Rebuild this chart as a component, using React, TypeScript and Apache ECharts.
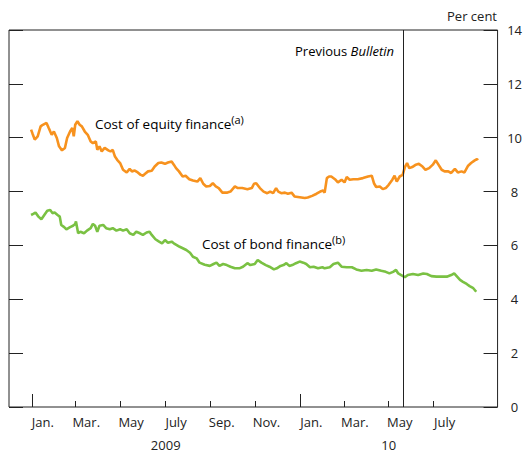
import React, { useEffect, useRef } from "react";
import * as echarts from "echarts";

// ---- Data ----
const equityDates = [
  "2008-12-31","2009-01-02","2009-01-05","2009-01-09","2009-01-13","2009-01-16","2009-01-21","2009-01-24","2009-01-28","2009-01-31",
  "2009-02-04","2009-02-07","2009-02-11","2009-02-15","2009-02-18","2009-02-22","2009-02-25","2009-02-27","2009-03-01","2009-03-04",
  "2009-03-07","2009-03-10","2009-03-14","2009-03-18","2009-03-22","2009-03-25","2009-03-29","2009-03-31","2009-04-03","2009-04-06",
  "2009-04-10","2009-04-15","2009-04-18","2009-04-21","2009-04-24","2009-04-27","2009-05-01","2009-05-05","2009-05-10","2009-05-14",
  "2009-05-17","2009-05-21","2009-05-25","2009-05-29","2009-06-01","2009-06-04","2009-06-08","2009-06-13","2009-06-17","2009-06-22",
  "2009-06-26","2009-07-01","2009-07-05","2009-07-10","2009-07-13","2009-07-16","2009-07-20","2009-07-25","2009-07-29","2009-08-03",
  "2009-08-08","2009-08-14","2009-08-18","2009-08-22","2009-08-26","2009-08-31","2009-09-04","2009-09-08","2009-09-12","2009-09-17",
  "2009-09-23","2009-09-28","2009-10-04","2009-10-08","2009-10-14","2009-10-21","2009-10-27","2009-10-30","2009-11-02","2009-11-07",
  "2009-11-12","2009-11-17","2009-11-21","2009-11-25","2009-11-29","2009-12-02","2009-12-06","2009-12-11","2009-12-15","2009-12-20",
  "2009-12-24","2009-12-31","2010-01-07","2010-01-11","2010-01-17","2010-01-23","2010-01-28","2010-02-01","2010-02-03","2010-02-06",
  "2010-02-09","2010-02-12","2010-02-17","2010-02-21","2010-02-26","2010-03-02","2010-03-05","2010-03-09","2010-03-14","2010-03-20",
  "2010-03-27","2010-04-03","2010-04-08","2010-04-11","2010-04-14","2010-04-19","2010-04-23","2010-04-27","2010-05-01","2010-05-06",
  "2010-05-09","2010-05-12","2010-05-16","2010-05-20","2010-05-23","2010-05-26","2010-05-29","2010-06-02","2010-06-07","2010-06-11",
  "2010-06-16","2010-06-20","2010-06-25","2010-06-30","2010-07-04","2010-07-07","2010-07-12","2010-07-16","2010-07-21","2010-07-25",
  "2010-07-30","2010-08-03","2010-08-08","2010-08-12","2010-08-17","2010-08-21","2010-08-26","2010-08-29","2010-08-30"
];
const equityValues = [
  10.30,10.15,9.93,10.05,10.42,10.48,10.55,10.36,10.11,10.23,
  9.99,9.68,9.53,9.62,9.99,10.23,10.36,10.05,10.48,10.61,
  10.48,10.42,10.23,10.11,9.86,9.80,9.86,9.55,9.68,9.49,
  9.62,9.53,9.49,9.55,9.30,9.18,9.06,8.81,8.71,8.84,
  8.75,8.78,8.71,8.62,8.59,8.66,8.75,8.77,8.93,9.06,
  9.08,9.03,9.08,9.12,9.00,8.87,8.75,8.56,8.59,8.46,
  8.41,8.37,8.50,8.29,8.19,8.21,8.31,8.19,8.13,7.96,
  7.96,8.00,8.19,8.13,8.13,8.09,8.13,8.29,8.31,8.13,
  8.00,7.94,8.00,7.94,8.13,8.00,7.94,7.96,7.92,7.96,
  7.82,7.79,7.76,7.78,7.84,7.92,8.00,8.04,7.96,8.50,
  8.56,8.56,8.46,8.34,8.44,8.34,8.54,8.44,8.46,8.46,
  8.50,8.56,8.59,8.31,8.17,8.19,8.09,8.13,8.25,8.44,
  8.59,8.37,8.56,8.62,8.91,9.06,8.87,8.91,9.00,9.03,
  8.93,8.81,8.87,9.00,9.16,9.03,8.81,8.75,8.75,8.69,
  8.84,8.71,8.75,8.71,8.96,9.06,9.16,9.21,9.16
];

const bondDates = [
  "2008-12-31","2009-01-03","2009-01-06","2009-01-10","2009-01-14","2009-01-18","2009-01-22","2009-01-26","2009-01-29","2009-02-01",
  "2009-02-05","2009-02-08","2009-02-10","2009-02-14","2009-02-17","2009-02-22","2009-02-26","2009-03-01","2009-03-02","2009-03-05",
  "2009-03-08","2009-03-13","2009-03-17","2009-03-22","2009-03-25","2009-03-28","2009-03-31","2009-04-03","2009-04-08","2009-04-12",
  "2009-04-17","2009-04-21","2009-04-26","2009-05-01","2009-05-05","2009-05-10","2009-05-14","2009-05-19","2009-05-23","2009-05-28",
  "2009-06-01","2009-06-06","2009-06-10","2009-06-13","2009-06-18","2009-06-23","2009-06-27","2009-07-01","2009-07-05","2009-07-10",
  "2009-07-13","2009-07-21","2009-07-30","2009-08-04","2009-08-08","2009-08-13","2009-08-17","2009-08-24","2009-08-31","2009-09-05",
  "2009-09-09","2009-09-13","2009-09-18","2009-09-23","2009-09-28","2009-10-04","2009-10-10","2009-10-15","2009-10-21","2009-10-25",
  "2009-10-31","2009-11-04","2009-11-09","2009-11-15","2009-11-20","2009-11-26","2009-11-30","2009-12-05","2009-12-09","2009-12-13",
  "2009-12-17","2009-12-21","2009-12-26","2009-12-31","2010-01-05","2010-01-09","2010-01-14","2010-01-19","2010-01-25","2010-01-31",
  "2010-02-03","2010-02-10","2010-02-15","2010-02-21","2010-02-26","2010-03-05","2010-03-12","2010-03-18","2010-03-25","2010-04-01",
  "2010-04-08","2010-04-14","2010-04-21","2010-04-27","2010-05-02","2010-05-07","2010-05-11","2010-05-14","2010-05-18","2010-05-23",
  "2010-05-27","2010-06-03","2010-06-10","2010-06-17","2010-06-22","2010-06-28","2010-07-05","2010-07-12","2010-07-19","2010-07-25",
  "2010-07-29","2010-08-02","2010-08-06","2010-08-10","2010-08-15","2010-08-19","2010-08-24","2010-08-28"
];
const bondValues = [
  7.13,7.17,7.22,7.07,6.97,7.13,7.29,7.32,7.20,7.22,
  7.13,7.07,6.76,6.68,6.60,6.68,6.73,6.80,6.89,6.45,
  6.51,6.45,6.55,6.64,6.80,6.73,6.51,6.73,6.76,6.64,
  6.60,6.64,6.55,6.60,6.55,6.60,6.45,6.39,6.51,6.45,
  6.39,6.48,6.51,6.39,6.23,6.14,6.08,6.20,6.10,6.14,
  6.08,5.95,5.83,5.73,5.58,5.52,5.36,5.28,5.24,5.31,
  5.36,5.24,5.31,5.27,5.21,5.15,5.15,5.21,5.34,5.27,
  5.31,5.46,5.36,5.27,5.21,5.11,5.15,5.24,5.27,5.34,
  5.24,5.27,5.34,5.40,5.36,5.31,5.19,5.21,5.15,5.19,
  5.15,5.19,5.31,5.36,5.21,5.19,5.19,5.11,5.06,5.09,
  5.06,5.11,5.06,5.02,4.96,5.02,5.09,4.96,4.90,4.82,
  4.90,4.94,4.90,4.96,4.94,4.86,4.84,4.84,4.84,4.90,
  4.96,4.84,4.72,4.65,4.57,4.49,4.41,4.28
];

const monthNames = ["Jan.", "Feb.", "Mar.", "Apr.", "May", "June", "July", "Aug.", "Sep.", "Oct.", "Nov.", "Dec."];
const yTicks = [0, 2, 4, 6, 8, 10, 12, 14];
const yearLabels: Record<string, string> = { "2009-07-02": "2009", "2010-05-01": "10" };
const axisStart = "2008-12-01";
const axisEnd = "2010-09-26";
const lastTickDate = "2010-08-01";
const bulletinDate = "2010-05-21";

const FONT = "'Open Sans', 'Noto Sans', sans-serif";
const TEXT = "#222";
const ORANGE = "#F7921E";
const GREEN = "#7AC143";

function buildDays(start: string, end: string): string[] {
  const [sy, sm, sd] = start.split("-").map(Number);
  const [ey, em, ed] = end.split("-").map(Number);
  const out: string[] = [];
  let t = Date.UTC(sy, sm - 1, sd);
  const e = Date.UTC(ey, em - 1, ed);
  while (t <= e) {
    const d = new Date(t);
    const s =
      d.getUTCFullYear() +
      "-" + String(d.getUTCMonth() + 1).padStart(2, "0") +
      "-" + String(d.getUTCDate()).padStart(2, "0");
    out.push(s);
    t += 86400000;
  }
  return out;
}

export default function App() {
  const ref = useRef<HTMLDivElement>(null);
  useEffect(() => {
    if (!ref.current) return;
    const chart = echarts.init(ref.current, undefined, { renderer: "svg" });
    const days = buildDays(axisStart, axisEnd);
    const isOddMonth = (v: string) => Number(v.slice(5, 7)) % 2 === 1;
    const minorTick = (_i: number, v: string) =>
      v.slice(8) === "01" && isOddMonth(v) && v < lastTickDate;
    const majorTick = (_i: number, v: string) => v.slice(5) === "01-01";
    const monthLabel = (_i: number, v: string) =>
      v.slice(8) === "16" && isOddMonth(v) && v >= "2009-01-01" && v < lastTickDate;
    const yearLabel = (_i: number, v: string) => yearLabels[v] !== undefined;

    const annotRich = {
      m: { fontFamily: FONT, fontSize: 13.5, lineHeight: 20, color: TEXT },
      s: { fontFamily: FONT, fontSize: 11, lineHeight: 11, verticalAlign: "top", color: TEXT },
    };

    const option: any = {
      animation: false,
      backgroundColor: "#fff",
      grid: {
        left: 9,
        right: 27,
        top: 30,
        bottom: 45,
        show: true,
        borderColor: TEXT,
        borderWidth: 1,
        backgroundColor: "transparent",
      },
      xAxis: [
        {
          type: "time",
          min: axisStart,
          max: axisEnd,
          show: false,
        },
        {
          type: "category",
          data: days,
          boundaryGap: false,
          position: "bottom",
          offset: 0,
          axisLine: { show: false },
          axisTick: { show: true, inside: true, length: 6, interval: minorTick, lineStyle: { color: TEXT, width: 1 } },
          axisLabel: {
            show: true,
            interval: monthLabel,
            formatter: (v: string) => monthNames[Number(v.slice(5, 7)) - 1],
            margin: 8,
            color: TEXT,
            fontFamily: FONT,
            fontSize: 13,
          },
          splitLine: { show: false },
        },
        {
          type: "category",
          data: days,
          boundaryGap: false,
          position: "bottom",
          offset: 0,
          axisLine: { show: false },
          axisTick: { show: true, inside: true, length: 13, interval: majorTick, lineStyle: { color: TEXT, width: 1 } },
          axisLabel: {
            show: true,
            interval: yearLabel,
            formatter: (v: string) => yearLabels[v] || "",
            margin: 31,
            color: TEXT,
            fontFamily: FONT,
            fontSize: 13,
          },
          splitLine: { show: false },
        },
      ],
      yAxis: [
        {
          type: "value",
          position: "right",
          min: yTicks[0],
          max: yTicks[yTicks.length - 1],
          interval: 2,
          axisLine: { show: false },
          axisTick: { show: true, inside: true, length: 14, lineStyle: { color: TEXT, width: 1 } },
          axisLabel: { margin: 17, align: "center", color: TEXT, fontFamily: FONT, fontSize: 13 },
          splitLine: { show: false },
        },
        {
          type: "value",
          position: "left",
          min: yTicks[0],
          max: yTicks[yTicks.length - 1],
          interval: 2,
          axisLine: { show: false },
          axisTick: { show: true, inside: true, length: 14, lineStyle: { color: TEXT, width: 1 } },
          axisLabel: { show: false },
          splitLine: { show: false },
        },
      ],
      series: [
        {
          name: "Cost of equity finance",
          type: "line",
          xAxisIndex: 0,
          yAxisIndex: 0,
          data: equityDates.map((d, i) => [d, equityValues[i]]),
          showSymbol: false,
          lineStyle: { color: ORANGE, width: 2.6 },
          itemStyle: { color: ORANGE },
          z: 3,
          markLine: {
            silent: true,
            symbol: ["none", "none"],
            label: { show: false },
            lineStyle: { color: TEXT, width: 1, type: "solid" },
            data: [{ xAxis: bulletinDate }],
          },
        },
        {
          name: "Cost of bond finance",
          type: "line",
          xAxisIndex: 0,
          yAxisIndex: 0,
          data: bondDates.map((d, i) => [d, bondValues[i]]),
          showSymbol: false,
          lineStyle: { color: GREEN, width: 2.6 },
          itemStyle: { color: GREEN },
          z: 3,
        },
      ],
      graphic: [
        {
          type: "text",
          x: 497,
          y: 16,
          style: { text: "Per cent", fill: TEXT, font: `13px ${FONT}`, textAlign: "right", textVerticalAlign: "middle" },
        },
        {
          type: "text",
          x: 394,
          y: 51,
          style: {
            text: "{n|Previous }{i|Bulletin}",
            textAlign: "right",
            textVerticalAlign: "middle",
            rich: {
              n: { fontFamily: FONT, fontSize: 13, color: TEXT },
              i: { fontFamily: FONT, fontSize: 13, fontStyle: "italic", color: TEXT },
            },
          },
        },
        {
          type: "text",
          x: 95,
          y: 124,
          style: {
            text: "{m|Cost of equity finance}{s|(a)}",
            textAlign: "left",
            textVerticalAlign: "middle",
            rich: annotRich,
          },
        },
        {
          type: "text",
          x: 202,
          y: 244,
          style: {
            text: "{m|Cost of bond finance}{s|(b)}",
            textAlign: "left",
            textVerticalAlign: "middle",
            rich: annotRich,
          },
        },
      ],
    };
    chart.setOption(option);
    return () => chart.dispose();
  }, []);
  return (
    <div
      ref={ref}
      style={{ position: "fixed", left: 0, top: 0, width: 525, height: 452, background: "#fff" }}
    />
  );
}
